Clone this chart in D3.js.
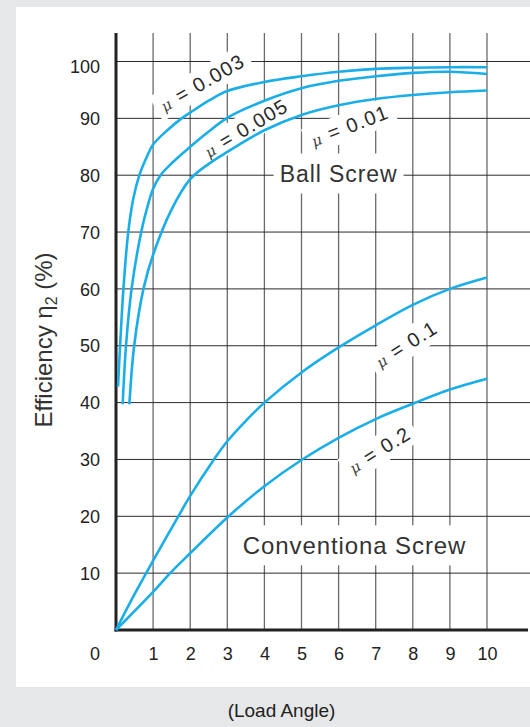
<!DOCTYPE html>
<html><head><meta charset="utf-8">
<script src="https://cdn.jsdelivr.net/npm/d3@7"></script>
<style>
html,body{margin:0;padding:0;background:#e6e7e9;}
svg{display:block;}
</style></head>
<body>
<svg id="chart" width="530" height="727"></svg>
<script>
// ---- data ----
const xTicks = [1,2,3,4,5,6,7,8,9,10];
const yTicks = [10,20,30,40,50,60,70,80,90,100];
const seriesNames = ["0.003","0.005","0.01","0.1","0.2"];
const mu003 = [[0.054,42.8],[0.11,50],[0.2,60],[0.33,70],[0.47,76],[0.63,80],[0.85,83.5],[1,85.4],[1.4,88],[1.77,90],[2,91],[2.5,93.1],[3,94.8],[4,96.4],[5,97.4],[6,98.2],[7,98.7],[8,98.9],[9,99.0],[10,99.0]];
const mu005 = [[0.18,39.7],[0.27,50],[0.42,60],[0.68,70],[0.85,74.5],[1,77.6],[1.2,80],[1.5,82.1],[2,85],[2.5,87.7],[3,90.1],[4,93.1],[5,95.3],[6,96.6],[7,97.4],[8,98.0],[9,98.2],[10,97.8]];
const mu01 = [[0.36,39.7],[0.49,50],[0.74,60],[1,66],[1.5,74],[2,79.3],[2.5,82],[3,84.1],[4,87.9],[5,90.6],[6,92.3],[7,93.4],[8,94.1],[9,94.6],[10,94.9]];
const mu1 = [[0,0],[0.5,6.3],[1,12.2],[1.68,20],[2,23.6],[2.64,30],[3,33.2],[3.5,36.8],[4,40],[5,45.3],[6,49.7],[7,53.6],[8,57.2],[9,60],[10,62]];
const mu2 = [[0,0],[1,6.7],[1.46,10],[2,13.5],[3,19.8],[4,25.3],[5,29.9],[6,33.8],[7,37.1],[8,39.8],[9,42.3],[10,44.2]];
const seriesData = [mu003, mu005, mu01, mu1, mu2];
const xTitle = "(Load Angle)";
const groupLabels = ["Ball Screw","Conventiona Screw"];

// ---- layout ----
const svg = d3.select("#chart");
const x = d3.scaleLinear().domain([0,10]).range([116,487]);
const y = d3.scaleLinear().domain([0,100]).range([630,61.5]);
const curveColor = "#1aaee8";

svg.append("rect").attr("x",16).attr("y",7).attr("width",514).attr("height",680).attr("fill","#ffffff");

// gridlines
const grid = svg.append("g");
grid.selectAll("line.v").data(xTicks).join("line")
  .attr("x1",d=>x(d)).attr("x2",d=>x(d)).attr("y1",33).attr("y2",y(0))
  .attr("stroke","#6a6a6a").attr("stroke-width",1.3);
grid.selectAll("line.h").data(yTicks).join("line")
  .attr("x1",x(0)).attr("x2",530).attr("y1",d=>y(d)).attr("y2",d=>y(d))
  .attr("stroke","#2a2a2a").attr("stroke-width",1);

// white boxes + labels layer
const annot = svg.append("g");
const curveLabelPos = [
  {x:2.32,y:96.3,a:-30},
  {x:3.5,y:88.3,a:-31},
  {x:6.3,y:88.7,a:-21},
  {x:7.82,y:50.3,a:-32},
  {x:7.1,y:31.7,a:-32}
];
seriesNames.forEach((name,i)=>{
  const p = curveLabelPos[i];
  const g = annot.append("g").attr("transform",`translate(${x(p.x)},${y(p.y)}) rotate(${p.a})`);
  const rect = g.append("rect").attr("fill","#fff");
  const t = g.append("text").attr("text-anchor","middle").attr("dy","0.35em")
    .attr("fill","#2a2a2a").style("font-family","'Liberation Sans',Arial,sans-serif").style("font-size","20px").style("letter-spacing","1.3px");
  t.append("tspan").text("μ").style("font-family","'DejaVu Serif',serif").style("font-style","italic").style("font-size","15px").attr("fill","#444");
  t.append("tspan").text(" = " + name);
  const bb = t.node().getBBox();
  rect.attr("x",bb.x-6).attr("y",-14).attr("width",bb.width+12).attr("height",28);
});

// group labels
const groupPos = [{x:6.0,y:80.3,w:130,h:40},{x:6.43,y:14.9,w:240,h:40}];
groupLabels.forEach((name,i)=>{
  const p = groupPos[i];
  const g = annot.append("g").attr("transform",`translate(${x(p.x)},${y(p.y)})`);
  g.append("rect").attr("x",-p.w/2).attr("y",-p.h/2).attr("width",p.w).attr("height",p.h).attr("fill","#fff");
  g.append("text").attr("text-anchor","middle").attr("dy","0.36em").text(name)
    .attr("fill","#333").style("font-family","'Liberation Sans',Arial,sans-serif")
    .style("font-size",i===0?"23px":"24px").style("letter-spacing","0.9px");
});

// axes lines
svg.append("line").attr("x1",x(0)).attr("x2",x(0)).attr("y1",33).attr("y2",y(0)+1.5)
  .attr("stroke","#222").attr("stroke-width",3);
svg.append("line").attr("x1",x(0)-1.5).attr("x2",528).attr("y1",y(0)).attr("y2",y(0))
  .attr("stroke","#222").attr("stroke-width",3);

// curves
const line = d3.line().x(d=>x(d[0])).y(d=>y(d[1])).curve(d3.curveCatmullRom.alpha(0.5));
svg.append("g").selectAll("path").data(seriesData).join("path")
  .attr("d",line).attr("fill","none").attr("stroke",curveColor).attr("stroke-width",2.6);

// tick labels via axes
const font = "'Liberation Sans',Arial,sans-serif";
const xa = svg.append("g").attr("transform",`translate(0,${y(0)})`)
  .call(d3.axisBottom(x).tickValues(xTicks).tickSize(0).tickPadding(17));
xa.select(".domain").remove();
xa.selectAll("text").style("font-family",font).style("font-size","18px").attr("fill","#222");

const ya = svg.append("g").attr("transform",`translate(${x(0)},0)`)
  .call(d3.axisLeft(y).tickValues(yTicks).tickSize(0).tickPadding(16));
ya.select(".domain").remove();
ya.selectAll("text").style("font-family",font).style("font-size","18px").attr("fill","#222")
  .attr("dy",d=>d===100?"0.62em":"0.34em");
// origin "0" label sits in the x-label row, aligned with y labels
svg.append("text").attr("x",x(0)-16).attr("y",y(0)).attr("dy","1.68em").attr("text-anchor","end")
  .text("0").style("font-family",font).style("font-size","18px").attr("fill","#222");

// y title
const yt = svg.append("text").attr("transform","translate(51.5,340) rotate(-90)")
  .attr("text-anchor","middle").attr("fill","#333").style("font-family",font).style("font-size","24px");
yt.append("tspan").text("Efficiency  η");
yt.append("tspan").text("2").attr("dy","5").style("font-size","16px");
yt.append("tspan").text(" (%)").attr("dy","-5");

// x title
svg.append("text").attr("x",281.5).attr("y",717).attr("text-anchor","middle").text(xTitle)
  .attr("fill","#222").style("font-family",font).style("font-size","19px");
</script>
</body></html>
